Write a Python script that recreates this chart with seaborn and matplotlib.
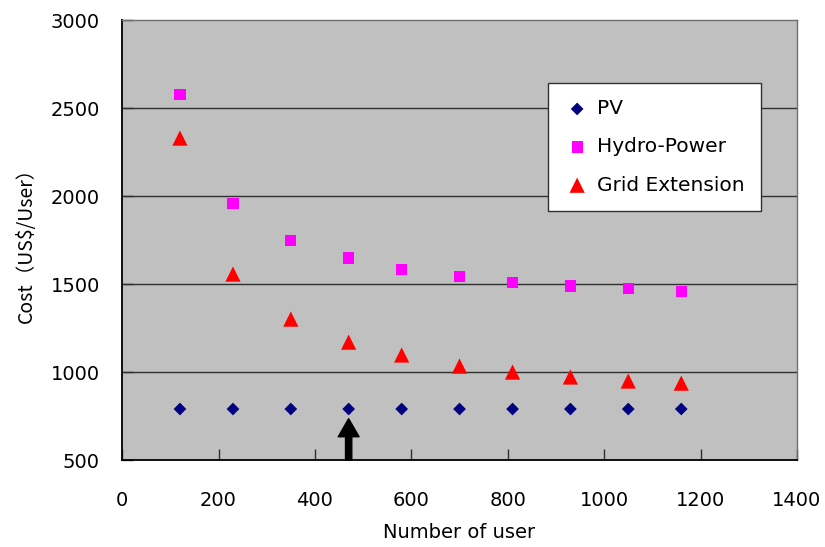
import matplotlib
matplotlib.use("Agg")
import matplotlib.pyplot as plt
import seaborn as sns
import pandas as pd

users = [120, 230, 350, 470, 580, 700, 810, 930, 1050, 1160]
pv = [790, 790, 790, 790, 790, 790, 790, 790, 790, 790]
hydro = [2580, 1960, 1750, 1648, 1585, 1545, 1511, 1489, 1477, 1460]
grid = [2330, 1557, 1301, 1170, 1097, 1034, 1000, 972, 949, 937]
series_names = ["PV", "Hydro-Power", "Grid Extension"]
x_ticks = [0, 200, 400, 600, 800, 1000, 1200, 1400]
y_ticks = [500, 1000, 1500, 2000, 2500, 3000]
arrow_x = 470

df = pd.DataFrame({
    "users": users * 3,
    "cost": pv + hydro + grid,
    "series": [series_names[0]] * len(users) + [series_names[1]] * len(users) + [series_names[2]] * len(users),
})

sns.set_style("white")
plt.rcParams["font.family"] = ["DejaVu Sans"]
plt.rcParams["text.color"] = "black"
plt.rcParams["axes.labelcolor"] = "black"
plt.rcParams["xtick.color"] = "black"
plt.rcParams["ytick.color"] = "black"

fig = plt.figure(figsize=(8.25, 5.47), dpi=100)
ax = fig.add_axes([0.148, 0.159, 0.818, 0.804])
ax.set_facecolor("#c0c0c0")

palette = {"PV": "#000080", "Hydro-Power": "#ff00ff", "Grid Extension": "#ff0000"}
markers = {"PV": "D", "Hydro-Power": "s", "Grid Extension": "^"}
sizes_map = {"PV": 42, "Hydro-Power": 65, "Grid Extension": 120}

for name in series_names:
    sub = df[df["series"] == name]
    sns.scatterplot(data=sub, x="users", y="cost", color=palette[name], marker=markers[name],
                    s=sizes_map[name], edgecolor="none", linewidth=0, ax=ax, label=name, zorder=3)

ax.set_xlim(0, 1400)
ax.set_ylim(500, 3000)
ax.set_xticks(x_ticks)
ax.set_yticks(y_ticks)
for yv in [1000, 1500, 2000, 2500]:
    ax.axhline(yv, color="#303030", lw=1.0, zorder=1)

ax.tick_params(axis="both", direction="in", length=8, width=1, color="#303030", labelsize=14,
               bottom=True, left=True, top=False, right=False, labelcolor="black")
ax.tick_params(axis="x", pad=22)
ax.tick_params(axis="y", pad=16)

for side in ["left", "bottom"]:
    ax.spines[side].set_color("black")
    ax.spines[side].set_linewidth(1.3)
for side in ["top", "right"]:
    ax.spines[side].set_color("#707070")
    ax.spines[side].set_linewidth(1.0)

ax.set_xlabel("Number of user", fontsize=14, labelpad=10, color="black")
ax.set_ylabel("Cost（US$/User）", fontsize=14, labelpad=10, color="black",
              family=["Noto Sans CJK JP", "DejaVu Sans"])

ax.annotate("", xy=(arrow_x, 735), xytext=(arrow_x, 500),
            arrowprops=dict(width=4.5, headwidth=15, headlength=13, facecolor="black",
                            edgecolor="black", shrink=0),
            zorder=4)

leg = ax.legend(loc="upper left", bbox_to_anchor=(0.631, 0.857), frameon=True, fancybox=False,
                edgecolor="#303030", facecolor="white", framealpha=1, fontsize=14.5,
                borderpad=0.8, labelspacing=0.95, handletextpad=0.35, handlelength=1.3,
                borderaxespad=0)
leg.get_frame().set_linewidth(1.0)
for t in leg.get_texts():
    t.set_color("black")

fig.savefig("out.png", dpi=100)
